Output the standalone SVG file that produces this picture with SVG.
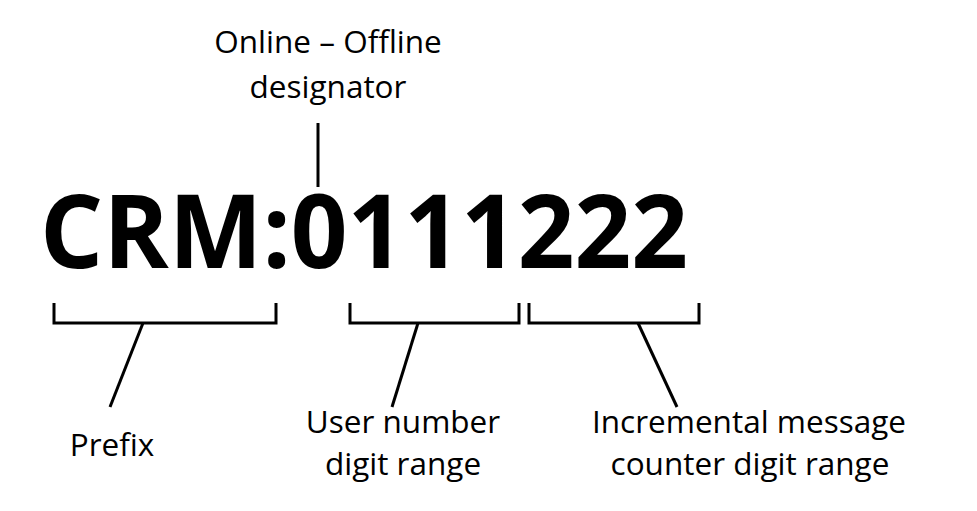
<svg xmlns="http://www.w3.org/2000/svg" width="977" height="511" viewBox="0 0 977 511">
<style>
.lbl{font-family:"Open Sans","Noto Sans",sans-serif;font-size:31.5px;fill:#000;text-anchor:middle}
.big{font-family:"Open Sans","Noto Sans",sans-serif;font-size:102px;font-weight:bold;fill:#000}
.ln{stroke:#000;stroke-width:3;fill:none;stroke-linecap:butt}
</style>
<rect width="977" height="511" fill="#fff"/>
<g id="code"><text class="big" x="40" y="268" textLength="648" lengthAdjust="spacingAndGlyphs">CRM:0111222</text></g>
<g id="designator"><text class="lbl" x="328" y="53">Online – Offline</text><text class="lbl" x="328" y="98">designator</text></g>
<g id="prefix"><text class="lbl" x="112" y="456">Prefix</text></g>
<g id="user"><text class="lbl" x="403" y="433">User number</text><text class="lbl" x="403" y="475">digit range</text></g>
<g id="counter"><text class="lbl" x="749" y="433">Incremental message</text><text class="lbl" x="750" y="475">counter digit range</text></g>
<g id="connectors">
<path class="ln" d="M318 123V187"/>
<path class="ln" d="M54 303V323H276V303"/>
<path class="ln" d="M143 323L110 407"/>
<path class="ln" d="M350 303V323H519V303"/>
<path class="ln" d="M418 323L392 407"/>
<path class="ln" d="M529 303V323H699V303"/>
<path class="ln" d="M638 323L677 407"/>
</g>
</svg>
